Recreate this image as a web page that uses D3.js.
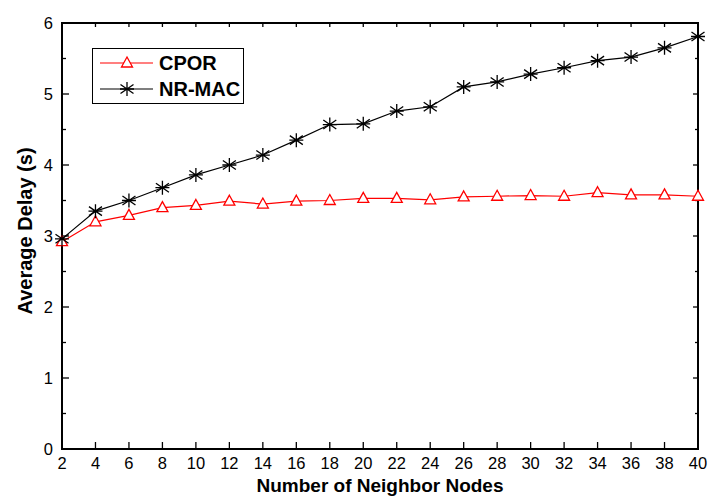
<!DOCTYPE html>
<html>
<head>
<meta charset="utf-8">
<script src="https://cdn.jsdelivr.net/npm/d3@7"></script>
<style>
  html, body { margin: 0; padding: 0; background: #fff; }
  text { font-family: "Liberation Sans", Arial, sans-serif; }
</style>
</head>
<body>
<div id="chart"></div>
<script>
const nodes = [2, 4, 6, 8, 10, 12, 14, 16, 18, 20, 22, 24, 26, 28, 30, 32, 34, 36, 38, 40];
const cpor = [2.92, 3.20, 3.29, 3.40, 3.43, 3.49, 3.45, 3.49, 3.50, 3.53, 3.53, 3.51, 3.55, 3.56, 3.57, 3.56, 3.61, 3.58, 3.58, 3.56];
const nrmac = [2.96, 3.35, 3.50, 3.68, 3.86, 4.00, 4.14, 4.35, 4.57, 4.58, 4.76, 4.82, 5.10, 5.17, 5.28, 5.37, 5.47, 5.52, 5.65, 5.81];
const yTicks = [0, 1, 2, 3, 4, 5, 6];
const yMinor = [0.5, 1.5, 2.5, 3.5, 4.5, 5.5];

const width = 720, height = 496;
const conf = { ml: 62, mr: 22, mt: 23, mb: 47 };

const svg = d3.select("#chart").append("svg")
    .attr("width", width)
    .attr("height", height)
    .attr("viewBox", [0, 0, width, height]);

const x = d3.scaleLinear().domain([2, 40]).range([conf.ml, width - conf.mr]);
const y = d3.scaleLinear().domain([0, 6]).range([height - conf.mb, conf.mt]);

// ticks, all pointing inward
const axes = svg.append("g").attr("stroke", "#000").attr("stroke-width", 1.3);
axes.selectAll(".xb").data(nodes).enter().append("line")
    .attr("x1", d => x(d)).attr("x2", d => x(d))
    .attr("y1", y(0)).attr("y2", y(0) - 7);
axes.selectAll(".xt").data(nodes).enter().append("line")
    .attr("x1", d => x(d)).attr("x2", d => x(d))
    .attr("y1", y(6)).attr("y2", y(6) + 4);
axes.selectAll(".yl").data(yTicks).enter().append("line")
    .attr("x1", x(2)).attr("x2", x(2) + 7)
    .attr("y1", d => y(d)).attr("y2", d => y(d));
axes.selectAll(".ylm").data(yMinor).enter().append("line")
    .attr("x1", x(2)).attr("x2", x(2) + 4)
    .attr("y1", d => y(d)).attr("y2", d => y(d));
axes.selectAll(".yr").data(yTicks).enter().append("line")
    .attr("x1", x(40)).attr("x2", x(40) - 5)
    .attr("y1", d => y(d)).attr("y2", d => y(d));
axes.selectAll(".yrm").data(yMinor).enter().append("line")
    .attr("x1", x(40)).attr("x2", x(40) - 3)
    .attr("y1", d => y(d)).attr("y2", d => y(d));

svg.append("rect")
    .attr("x", x(2)).attr("y", y(6))
    .attr("width", x(40) - x(2)).attr("height", y(0) - y(6))
    .attr("fill", "none").attr("stroke", "#000").attr("stroke-width", 2);

// tick labels
svg.selectAll(".xlab").data(nodes).enter().append("text")
    .attr("x", d => x(d)).attr("y", y(0) + 20)
    .attr("text-anchor", "middle").attr("font-size", 16.5)
    .text(d => d);
svg.selectAll(".ylab").data(yTicks).enter().append("text")
    .attr("x", conf.ml - 9).attr("y", d => y(d) + 6)
    .attr("text-anchor", "end").attr("font-size", 16.5)
    .text(d => d);

// axis titles
svg.append("text")
    .attr("x", 380).attr("y", 491.5)
    .attr("text-anchor", "middle").attr("font-size", 19).attr("font-weight", "bold")
    .text("Number of Neighbor Nodes");
svg.append("text")
    .attr("transform", "translate(32,231) rotate(-90)")
    .attr("text-anchor", "middle").attr("font-size", 20).attr("font-weight", "bold")
    .text("Average Delay (s)");

const line = d3.line().x(d => x(d[0])).y(d => y(d[1]));
const series = [
  { name: "CPOR", values: cpor, color: "#ff0000", marker: "tri" },
  { name: "NR-MAC", values: nrmac, color: "#000000", marker: "star" }
];

function drawMarker(g, type, color) {
  if (type === "tri") {
    g.append("path")
      .attr("d", "M0,-6 L5.5,4 L-5.5,4 Z")
      .attr("fill", "#fff").attr("stroke", color).attr("stroke-width", 1.3);
  } else {
    g.append("path")
      .attr("d", "M0,-7 L0,7 M-6.5,-4.5 L6.5,4.5 M-6.5,4.5 L6.5,-4.5 M-7,0 L7,0")
      .attr("stroke", color).attr("stroke-width", 1.3).attr("fill", "none");
  }
}

series.forEach(s => {
  const pts = nodes.map((n, i) => [n, s.values[i]]);
  svg.append("path")
    .attr("fill", "none").attr("stroke", s.color).attr("stroke-width", 1.2)
    .attr("d", line(pts));
  pts.forEach(p => {
    const g = svg.append("g").attr("transform", `translate(${x(p[0])},${y(p[1])})`);
    drawMarker(g, s.marker, s.color);
  });
});

// legend
const legend = svg.append("g");
legend.append("rect")
    .attr("x", 92.5).attr("y", 48.5).attr("width", 151).attr("height", 55)
    .attr("fill", "#fff").attr("stroke", "#000").attr("stroke-width", 1);
series.forEach((s, i) => {
  const ly = 63 + i * 26;
  legend.append("line")
    .attr("x1", 100).attr("x2", 153).attr("y1", ly).attr("y2", ly)
    .attr("stroke", s.color).attr("stroke-width", 1.2);
  drawMarker(legend.append("g").attr("transform", `translate(127,${ly})`), s.marker, s.color);
  legend.append("text")
    .attr("x", 159).attr("y", ly + 7)
    .attr("font-size", 20).attr("font-weight", "bold")
    .text(s.name);
});
</script>
</body>
</html>
